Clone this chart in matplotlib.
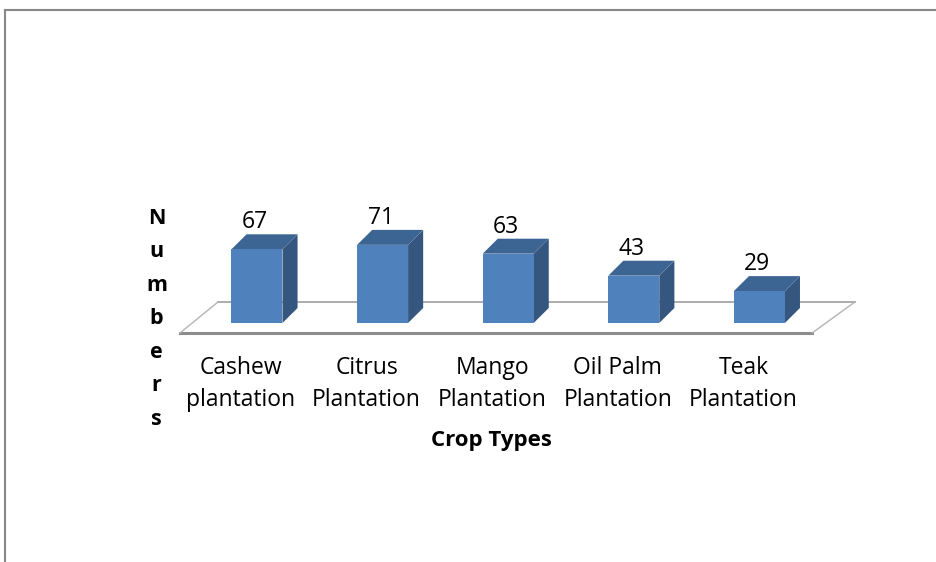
import matplotlib
matplotlib.use("Agg")
import matplotlib.pyplot as plt
from matplotlib.patches import Polygon
from matplotlib.lines import Line2D

categories = ["Cashew\nplantation", "Citrus\nPlantation", "Mango\nPlantation",
              "Oil Palm\nPlantation", "Teak\nPlantation"]
values = [67, 71, 63, 43, 29]
x_title = "Crop Types"
y_title = "Numbers"

FRONT = "#4F81BD"
TOP = "#3D6594"
SIDE = "#34567F"
FONT = "Open Sans"

fig = plt.figure(figsize=(9.36, 5.62), dpi=100)
ax = fig.add_axes([0, 0, 1, 1])
ax.set_xlim(-2.046, 5.406)
ax.set_ylim(-217.3, 293.6)
ax.axis("off")

w = 0.406   # bar width
dx, dy = 0.12, 13.6   # fake depth

# floor of the 3d box
floor = Polygon([(-0.613, -9.1), (4.42, -9.1), (4.76, 19.1), (-0.31, 19.1)],
                closed=True, facecolor="white", edgecolor="none", zorder=1)
ax.add_patch(floor)
ax.plot([-0.31, 4.76], [19.1, 19.1], color="#A6A6A6", lw=1.3, zorder=2)
ax.plot([-0.613, 4.42], [-9.1, -9.1], color="#8C8C8C", lw=2.2, zorder=2)
ax.plot([-0.613, -0.31], [-9.1, 19.1], color="#B4B4B4", lw=1, zorder=2)
ax.plot([4.42, 4.76], [-9.1, 19.1], color="#B4B4B4", lw=1, zorder=2)

xs = list(range(len(values)))
ax.bar(xs, values, width=w, color=FRONT, zorder=4)
for x, v in zip(xs, values):
    r = x + w / 2
    l = x - w / 2
    ax.add_patch(Polygon([(r, 0), (r + dx, dy), (r + dx, v + dy), (r, v)],
                         facecolor=SIDE, edgecolor="none", zorder=3))
    ax.add_patch(Polygon([(l, v), (r, v), (r + dx, v + dy), (l + dx, v + dy)],
                         facecolor=TOP, edgecolor="none", zorder=3))
    ax.text(x - 0.016, v + dy + 5.5, str(v), ha="center", va="baseline",
            fontsize=16.5, family=FONT, color="black", zorder=5)

for x, lab in zip(xs, categories):
    ax.text(x - 0.128, -55.5, lab, ha="center", va="center", fontsize=16.5,
            family=FONT, linespacing=1.45)

ax.text(1.87, -106.4, x_title, ha="center", va="center", fontsize=16,
        family=FONT, fontweight="bold")
ax.text(-0.80, 4.0, "\n".join(y_title), ha="center", va="center", fontsize=15.5,
        family=FONT, fontweight="bold", linespacing=1.78)

# chart border
fig.add_artist(Line2D([5 / 936, 1], [1 - 10 / 562, 1 - 10 / 562],
                      transform=fig.transFigure, color="#888888", lw=1.5))
fig.add_artist(Line2D([5 / 936, 5 / 936], [0, 1 - 10 / 562],
                      transform=fig.transFigure, color="#888888", lw=1.5))

fig.savefig("out.png", dpi=100, facecolor="white")
